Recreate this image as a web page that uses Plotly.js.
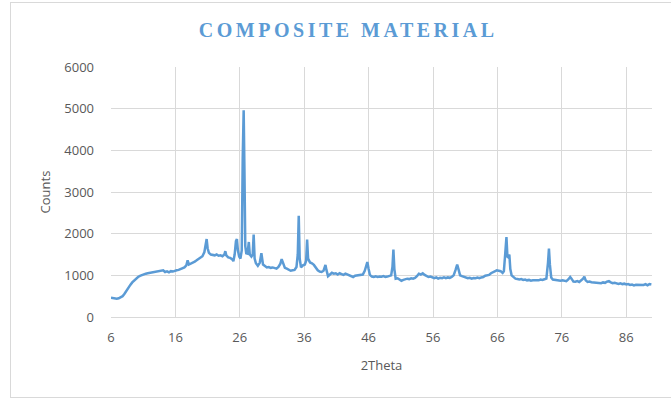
<!DOCTYPE html>
<html>
<head>
<meta charset="utf-8">
<script src="https://cdn.plot.ly/plotly-3.0.1.min.js"></script>
<style>
  html, body { margin: 0; padding: 0; background: #fff; }
  #wrap { position: relative; width: 671px; height: 400px; overflow: hidden; }
  #chart { position: absolute; left: 0; top: 0; width: 671px; height: 400px; }
  #frame { position: absolute; left: 10px; top: 2px; width: 700px; height: 394px; border: 1px solid #d9d9d9; pointer-events: none; }
  .gtitle { letter-spacing: 3.5px; }
</style>
</head>
<body>
<div id="wrap"><div id="chart"></div><div id="frame"></div></div>
<script>
const twoTheta = [
6.0,6.3,6.6,6.9,7.2,7.5,7.8,8.1,8.4,8.7,9.0,9.3,9.6,9.9,10.2,10.5,10.8,11.1,11.4,11.7,
12.0,12.3,12.6,12.9,13.2,13.5,13.8,14.1,14.4,14.7,15.0,15.3,15.6,15.9,16.2,16.5,16.8,17.1,17.4,17.7,
17.9,18.1,18.4,18.7,19.0,19.3,19.6,19.9,20.2,20.5,20.7,20.85,21.0,21.2,21.5,21.8,22.1,22.4,22.7,23.0,
23.3,23.6,23.75,23.9,24.2,24.5,24.8,25.0,25.2,25.4,25.55,25.7,25.9,26.1,26.3,26.45,26.6,26.72,26.85,27.0,
27.2,27.4,27.55,27.8,28.0,28.15,28.3,28.5,28.8,29.1,29.35,29.6,29.9,30.2,30.5,30.8,31.1,31.4,31.7,32.0,
32.3,32.5,32.7,33.0,33.3,33.6,33.9,34.2,34.5,34.8,35.0,35.15,35.3,35.5,35.8,36.1,36.3,36.45,36.6,36.9,
37.2,37.5,37.8,38.1,38.4,38.7,39.0,39.3,39.45,39.7,40.0,40.3,40.6,40.9,41.2,41.5,41.8,42.1,42.4,42.7,
43.0,43.3,43.6,43.9,44.2,44.5,44.8,45.1,45.4,45.6,45.8,46.0,46.2,46.5,46.8,47.1,47.4,47.7,48.0,48.3,
48.6,48.9,49.2,49.5,49.7,49.85,50.0,50.2,50.5,50.8,51.1,51.4,51.7,52.0,52.3,52.6,52.9,53.2,53.5,53.8,
54.1,54.4,54.7,55.0,55.3,55.6,55.9,56.2,56.5,56.8,57.1,57.4,57.7,58.0,58.3,58.6,58.9,59.2,59.5,59.75,
60.0,60.2,60.5,60.8,61.1,61.4,61.7,62.0,62.3,62.6,62.9,63.2,63.5,63.8,64.1,64.4,64.7,65.0,65.3,65.6,
65.9,66.2,66.5,66.8,67.0,67.2,67.4,67.55,67.7,67.85,68.0,68.2,68.5,68.8,69.1,69.4,69.7,70.0,70.3,70.6,
70.9,71.2,71.5,71.8,72.1,72.4,72.7,73.0,73.3,73.6,73.85,74.0,74.15,74.35,74.6,74.9,75.2,75.5,75.8,76.1,
76.4,76.7,77.0,77.3,77.5,77.8,78.1,78.4,78.7,79.0,79.3,79.5,79.7,80.0,80.3,80.6,80.9,81.2,81.5,81.8,
82.1,82.4,82.7,83.0,83.3,83.6,83.9,84.2,84.5,84.8,85.1,85.4,85.7,86.0,86.3,86.6,86.9,87.2,87.5,87.8,
88.1,88.4,88.7,89.0,89.3,89.6,89.9
];
const counts = [
460,450,445,440,450,470,500,560,640,710,770,830,880,920,960,985,1010,1030,1040,1050,
1060,1065,1080,1075,1090,1100,1110,1120,1080,1095,1070,1100,1090,1110,1120,1130,1150,1160,1190,1240,
1360,1260,1280,1300,1330,1360,1390,1420,1460,1560,1780,1870,1650,1540,1500,1490,1480,1500,1470,1480,
1460,1500,1580,1480,1430,1420,1390,1340,1500,1820,1870,1600,1450,1400,1600,3800,4960,3500,1700,1530,
1520,1800,1500,1450,1500,1980,1400,1290,1230,1300,1530,1260,1220,1190,1200,1180,1190,1170,1160,1200,
1280,1390,1280,1180,1160,1130,1110,1120,1130,1200,1500,2430,1400,1190,1240,1260,1350,1860,1400,1310,
1290,1250,1180,1120,1090,1080,1110,1250,1130,980,1020,1060,1040,1050,1020,1050,1030,1010,1040,1020,
990,980,960,990,1000,1010,1010,1020,1110,1250,1320,1150,1010,970,960,975,960,970,965,980,
960,970,990,1000,1200,1620,1150,920,930,900,870,890,900,920,910,930,920,940,980,1040,
1020,1050,1010,980,960,970,940,930,950,920,940,930,950,930,950,940,960,1000,1130,1260,
1120,1000,980,960,950,930,940,920,935,930,945,930,950,960,990,1000,1010,1050,1080,1100,
1120,1110,1100,1060,1100,1500,1920,1450,1430,1500,1150,1000,960,920,910,900,910,890,900,880,
890,870,880,875,885,880,900,890,905,920,1300,1640,1250,950,900,890,880,885,870,880,
870,860,900,960,920,850,845,860,840,870,920,970,880,840,850,835,830,840,820,830,
810,830,820,850,860,830,810,820,800,795,810,790,800,780,790,770,780,760,775,770,
780,760,770,790,760,790,780
];
const xTickVals = [6,16,26,36,46,56,66,76,86];
const yTickVals = [0,1000,2000,3000,4000,5000,6000];

const tickFont = {family: 'Open Sans, sans-serif', size: 13, color: '#595959'};

Plotly.newPlot('chart', [{
  x: twoTheta, y: counts, type: 'scatter', mode: 'lines',
  line: {color: '#5B9BD5', width: 2.5},
  hoverinfo: 'skip'
}], {
  width: 671, height: 400,
  margin: {l: 111, r: 19, t: 67, b: 83},
  paper_bgcolor: '#ffffff', plot_bgcolor: '#ffffff',
  showlegend: false,
  title: {
    text: '<b>COMPOSITE MATERIAL</b>',
    font: {family: 'Liberation Serif, serif', size: 20, color: '#5B9BD5'},
    xref: 'container', x: 0.519, xanchor: 'center',
    yref: 'container', y: 0.925, yanchor: 'middle'
  },
  xaxis: {
    range: [6, 90], tickmode: 'array', tickvals: xTickVals,
    showgrid: true, gridcolor: '#d9d9d9', gridwidth: 1,
    showline: true, linecolor: '#d9d9d9', linewidth: 1,
    zeroline: false, ticks: '', tickfont: tickFont,
    ticklabelstandoff: 8,
    title: {text: '2Theta', font: tickFont, standoff: 16}
  },
  yaxis: {
    range: [0, 6000], tickmode: 'array', tickvals: yTickVals,
    showgrid: true, gridcolor: '#d9d9d9', gridwidth: 1,
    showline: false, zeroline: false, ticks: '', tickfont: tickFont,
    ticklabelstandoff: 16,
    title: {text: 'Counts', font: tickFont, standoff: 10}
  }
}, {staticPlot: true, displayModeBar: false});
</script>
</body>
</html>
